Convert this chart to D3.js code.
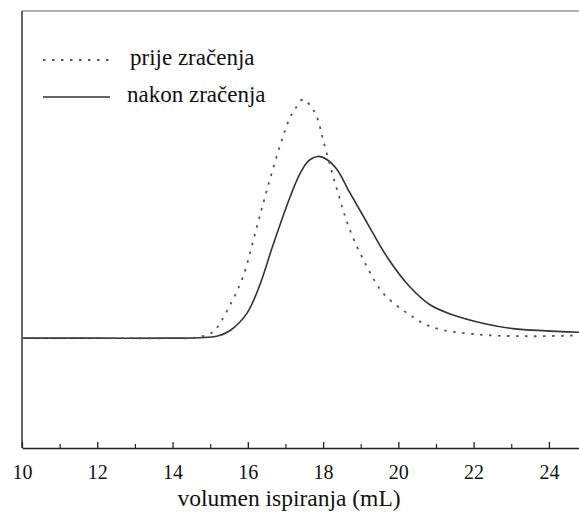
<!DOCTYPE html>
<html>
<head>
<meta charset="utf-8">
<script src="https://cdn.jsdelivr.net/npm/d3@7"></script>
<style>
  body { margin: 0; background: #fff; }
</style>
</head>
<body>
<div id="chart"></div>
<script>
// elution volume (mL) and detector signal (arbitrary units, baseline = 0)
var volPrije = [10, 12, 14, 14.6, 15.07, 15.26, 15.53, 15.87, 16.24, 16.51, 16.85, 17.12, 17.25, 17.47, 17.73, 17.86, 18.0, 18.37, 18.71, 19.17, 19.59, 20.23, 20.92, 22.17, 23.5, 24.8];
var sigPrije = [0, 0, 0, 0.002, 0.025, 0.063, 0.139, 0.256, 0.466, 0.622, 0.803, 0.924, 0.958, 1.0, 0.958, 0.916, 0.83, 0.622, 0.454, 0.298, 0.189, 0.105, 0.045, 0.015, 0.008, 0.012];

var volNakon = [10, 12, 14, 14.7, 15.2, 15.53, 15.98, 16.3, 16.67, 17.12, 17.39, 17.62, 17.86, 18.1, 18.37, 18.71, 19.17, 19.7, 20.31, 20.84, 21.4, 22.3, 23.04, 24.8];
var sigNakon = [0, 0, 0, 0.002, 0.009, 0.032, 0.105, 0.215, 0.39, 0.59, 0.69, 0.743, 0.761, 0.748, 0.706, 0.609, 0.483, 0.34, 0.214, 0.14, 0.1, 0.06, 0.04, 0.025];

var majorTicks = [10, 12, 14, 16, 18, 20, 22, 24];
var minorTicks = [11, 13, 15, 17, 19, 21, 23];
var legendLabels = ['prije zračenja', 'nakon zračenja'];
var xTitle = 'volumen ispiranja (mL)';

var serif = "'Liberation Serif'";
var width = 579, height = 518;
var mLeft = 22, mRight = 579, mTop = 11, mBottom = 448;

var svg = d3.select('#chart').append('svg')
	.attr('width', width)
	.attr('height', height);

var x = d3.scaleLinear().domain([10, 24.8]).range([mLeft, mRight]);
var y = d3.scaleLinear().domain([-0.46, 1.37]).range([mBottom, mTop]);

// frame: grey top line, dark left axis
svg.append('line')
	.attr('x1', mLeft).attr('x2', mRight)
	.attr('y1', mTop).attr('y2', mTop)
	.attr('stroke', '#999').attr('stroke-width', 1.5);
svg.append('line')
	.attr('x1', mLeft).attr('x2', mLeft)
	.attr('y1', mTop).attr('y2', mBottom)
	.attr('stroke', '#333').attr('stroke-width', 1.5);

// bottom axis, ticks pointing inward
var xMajor = svg.append('g')
	.attr('transform', 'translate(0,' + mBottom + ')')
	.call(d3.axisBottom(x).tickValues(majorTicks).tickSizeInner(-6).tickSizeOuter(0).tickPadding(17));
xMajor.select('.domain').attr('stroke', '#222').attr('stroke-width', 1.5);
xMajor.selectAll('.tick line').attr('stroke', '#222').attr('stroke-width', 1.3);
xMajor.selectAll('.tick text')
	.style('font-family', serif)
	.style('font-size', '20px')
	.attr('fill', '#111');

var xMinor = svg.append('g')
	.attr('transform', 'translate(0,' + mBottom + ')')
	.call(d3.axisBottom(x).tickValues(minorTicks).tickSizeInner(-4).tickSizeOuter(0).tickFormat(''));
xMinor.select('.domain').remove();
xMinor.selectAll('.tick line').attr('stroke', '#222').attr('stroke-width', 1.2);

svg.append('text')
	.attr('x', 289).attr('y', 506)
	.attr('text-anchor', 'middle')
	.style('font-family', serif)
	.style('font-size', '23.5px')
	.attr('fill', '#111')
	.text(xTitle);

var line = d3.line()
	.x(function(d) { return x(d[0]); })
	.y(function(d) { return y(d[1]); })
	.curve(d3.curveCatmullRom.alpha(0.5));

var prije = volPrije.map(function(v, i) { return [v, sigPrije[i]]; });
var nakon = volNakon.map(function(v, i) { return [v, sigNakon[i]]; });

svg.append('path')
	.datum(nakon)
	.attr('d', line)
	.attr('fill', 'none')
	.attr('stroke', '#333')
	.attr('stroke-width', 1.6);

svg.append('path')
	.datum(prije)
	.attr('d', line)
	.attr('fill', 'none')
	.attr('stroke', '#555')
	.attr('stroke-width', 1.8)
	.attr('stroke-dasharray', '2.5,6.5');

// legend
var legend = svg.append('g');
var legendY = [60, 97];
legend.append('line')
	.attr('x1', 43).attr('x2', 110)
	.attr('y1', legendY[0]).attr('y2', legendY[0])
	.attr('stroke', '#555').attr('stroke-width', 1.8)
	.attr('stroke-dasharray', '2.5,6.5');
legend.append('line')
	.attr('x1', 43).attr('x2', 110)
	.attr('y1', legendY[1]).attr('y2', legendY[1])
	.attr('stroke', '#333').attr('stroke-width', 1.6);
legend.selectAll('text.lab').data(legendLabels).enter()
	.append('text')
	.attr('class', 'lab')
	.attr('x', function(d, i) { return i == 0 ? 130 : 127; })
	.attr('y', function(d, i) { return legendY[i] + 5; })
	.style('font-family', serif)
	.style('font-size', '23px')
	.attr('fill', '#111')
	.text(function(d) { return d; });
</script>
</body>
</html>
